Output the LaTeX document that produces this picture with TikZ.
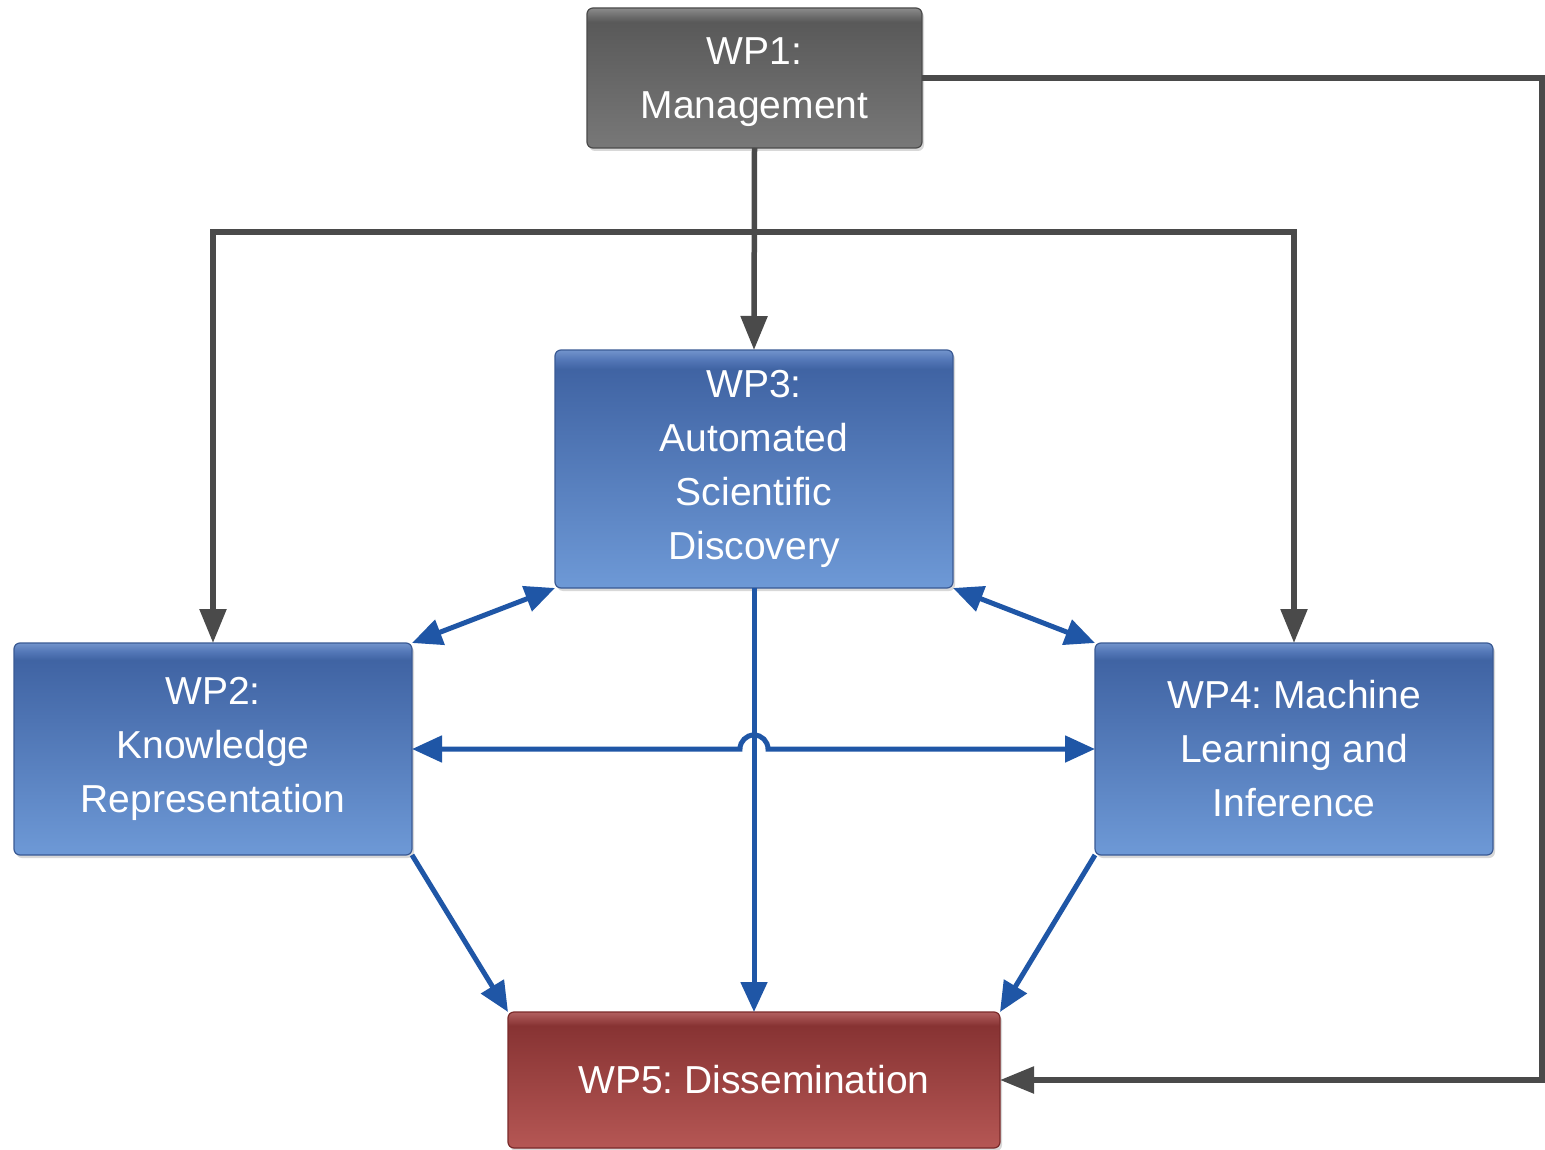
\documentclass[tikz,border=0pt]{standalone}
\usepackage{fontspec}
\setmainfont{Liberation Sans}
\frenchspacing
\usetikzlibrary{arrows.meta,shadows}
\definecolor{grayline}{HTML}{4A4A4A}
\definecolor{blueline}{HTML}{1F56A6}
\definecolor{blueborder}{HTML}{3A5A94}
\definecolor{grayborder}{HTML}{4A4A4A}
\definecolor{redborder}{HTML}{7A2A2A}
\pgfdeclareverticalshading{blueshade}{100bp}{rgb(0bp)=(0.43,0.60,0.84); rgb(25bp)=(0.43,0.60,0.84); rgb(71bp)=(0.25,0.39,0.64); rgb(73bp)=(0.33,0.47,0.72); rgb(75bp)=(0.45,0.58,0.80); rgb(100bp)=(0.45,0.58,0.80)}
\pgfdeclareverticalshading{grayshade}{100bp}{rgb(0bp)=(0.47,0.47,0.47); rgb(25bp)=(0.47,0.47,0.47); rgb(70bp)=(0.35,0.35,0.35); rgb(72bp)=(0.42,0.42,0.42); rgb(75bp)=(0.55,0.55,0.55); rgb(100bp)=(0.55,0.55,0.55)}
\pgfdeclareverticalshading{redshade}{100bp}{rgb(0bp)=(0.71,0.34,0.33); rgb(25bp)=(0.71,0.34,0.33); rgb(70bp)=(0.53,0.20,0.20); rgb(72bp)=(0.60,0.27,0.27); rgb(75bp)=(0.70,0.38,0.38); rgb(100bp)=(0.70,0.38,0.38)}
\tikzset{
  wpbox/.style={rectangle, rounded corners=6pt, inner sep=0pt, outer sep=0pt,
    text=white, align=center, font=\fontsize{39}{54}\selectfont,
    line width=1.2pt, drop shadow={shadow xshift=2pt, shadow yshift=-3pt, opacity=0.3}},
  bluebox/.style={wpbox, draw=blueborder, shading=blueshade},
  graybox/.style={wpbox, draw=grayborder, shading=grayshade},
  redbox/.style={wpbox, draw=redborder, shading=redshade},
  grayarrow/.style={draw=grayline, line width=5.5pt, line join=miter,
    -{Triangle[length=34pt,width=26pt]}},
  bluearrow/.style={draw=blueline, line width=5pt,
    -{Triangle[length=30pt,width=26pt]}},
  bluedbl/.style={draw=blueline, line width=5pt,
    {Triangle[length=30pt,width=26pt]}-{Triangle[length=30pt,width=26pt]}},
}
\begin{document}
\begin{tikzpicture}[x=1pt,y=-1pt]
\useasboundingbox (0,0) rectangle (1545,1150);
\fill[white] (0,0) rectangle (1545,1150);

\node[graybox, minimum width=335pt, minimum height=140pt, text depth=0pt] (wp1) at (754.5,78) {WP1:\\Management};
\node[bluebox, minimum width=398pt, minimum height=238pt] (wp3) at (754,469) {WP3:\\Automated\\Scientific\\Discovery};
\node[bluebox, minimum width=398pt, minimum height=212pt] (wp2) at (213,749) {WP2:\\Knowledge\\Representation};
\node[bluebox, minimum width=398pt, minimum height=212pt] (wp4) at (1294,749) {WP4: Machine\\Learning and\\Inference};
\node[redbox, minimum width=492pt, minimum height=136pt] (wp5) at (754,1080) {WP5: Dissemination};

\coordinate (hbarL) at (213,232);
\coordinate (hbarR) at (1294,232);
\coordinate (rail) at (1542,0);

% gray connectors
\draw[grayarrow] (wp1.south) -- (wp3.north);
\draw[grayarrow] (hbarR) -- (hbarL) -- (wp2.north);
\draw[grayarrow] (hbarL) -- (hbarR) -- (wp4.north);
\draw[grayarrow] (wp1.east) -- (wp1.east -| rail) -- (wp5.east -| rail) -- (wp5.east);

% blue connectors
\draw[bluedbl] (wp3.south west) -- (wp2.north east);
\draw[bluedbl] (wp3.south east) -- (wp4.north west);
\draw[bluearrow] (wp3.south) -- (wp5.north);
\draw[bluedbl] (wp2.east) -- ++(328,0) arc[start angle=180, end angle=360, radius=14] -- (wp4.west);
\draw[bluearrow] (wp2.south east) -- (wp5.north west);
\draw[bluearrow] (wp4.south west) -- (wp5.north east);
\end{tikzpicture}
\end{document}
